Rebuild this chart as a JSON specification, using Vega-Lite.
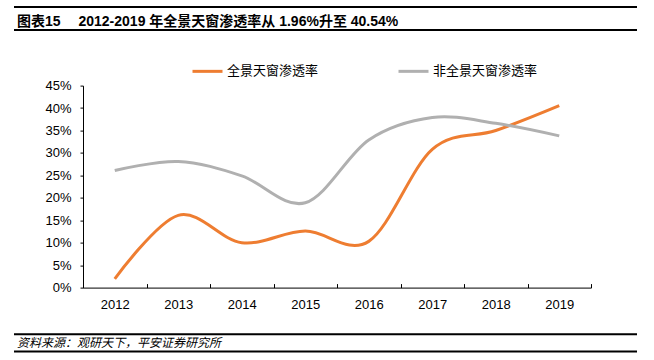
{
  "$schema": "https://vega.github.io/schema/vega-lite/v6.json",
  "padding": {"left": 13, "top": 6, "right": 0, "bottom": 0},
  "background": "white",
  "config": {
    "view": {"stroke": null},
    "font": "Liberation Sans, Noto Sans CJK SC"
  },
  "spacing": 19.6,
  "resolve": {"legend": {"color": "independent"}, "scale": {"color": "independent"}},
  "vconcat": [
    {
      "width": 623,
      "height": 23,
      "view": {"stroke": "#000000", "strokeWidth": 2, "strokeDash": [623, 23]},
      "title": {
        "text": "图表15\u3000 2012-2019 年全景天窗渗透率从 1.96%升至 40.54%",
        "anchor": "start",
        "orient": "top",
        "offset": -21.5,
        "dx": 3,
        "font": "Liberation Sans, Noto Sans CJK SC",
        "fontSize": 14,
        "fontWeight": "bold",
        "color": "#000000"
      },
      "data": {"values": []},
      "mark": {"type": "point"},
      "encoding": {}
    },
    {
      "bounds": "flush",
      "spacing": 68,
      "resolve": {"legend": {"color": "independent"}, "scale": {"color": "independent"}},
      "hconcat": [
        {
          "width": 1,
          "height": 228,
          "data": {"values": []},
          "mark": {"type": "point"},
          "encoding": {}
        },
        {
          "width": 508,
          "height": 202,
          "data": {
            "values": [
              {"year": "2012", "series": "全景天窗渗透率", "value": 1.96},
              {"year": "2013", "series": "全景天窗渗透率", "value": 16.1},
              {"year": "2014", "series": "全景天窗渗透率", "value": 10.0},
              {"year": "2015", "series": "全景天窗渗透率", "value": 12.6},
              {"year": "2016", "series": "全景天窗渗透率", "value": 10.3},
              {"year": "2017", "series": "全景天窗渗透率", "value": 30.8},
              {"year": "2018", "series": "全景天窗渗透率", "value": 35.0},
              {"year": "2019", "series": "全景天窗渗透率", "value": 40.54},
              {"year": "2012", "series": "非全景天窗渗透率", "value": 26.1},
              {"year": "2013", "series": "非全景天窗渗透率", "value": 28.1},
              {"year": "2014", "series": "非全景天窗渗透率", "value": 24.9},
              {"year": "2015", "series": "非全景天窗渗透率", "value": 18.9},
              {"year": "2016", "series": "非全景天窗渗透率", "value": 32.9},
              {"year": "2017", "series": "非全景天窗渗透率", "value": 37.9},
              {"year": "2018", "series": "非全景天窗渗透率", "value": 36.6},
              {"year": "2019", "series": "非全景天窗渗透率", "value": 33.8}
            ]
          },
          "mark": {"type": "line", "interpolate": "cardinal", "tension": 0, "strokeWidth": 3},
          "encoding": {
            "x": {
              "field": "year",
              "type": "ordinal",
              "bandPosition": 0.5,
              "scale": {"type": "band", "paddingInner": 0, "paddingOuter": 0},
              "axis": {
                "title": null,
                "labelAngle": 0,
                "tickBand": "extent",
                "tickSize": -4,
                "labelPadding": 15,
                "labelFont": "Liberation Sans",
                "labelFontSize": 13,
                "labelColor": "#000000",
                "domainColor": "#000000",
                "tickColor": "#000000",
                "grid": false
              }
            },
            "y": {
              "field": "value",
              "type": "quantitative",
              "scale": {"domain": [0, 45], "nice": false},
              "axis": {
                "title": null,
                "values": [0, 5, 10, 15, 20, 25, 30, 35, 40, 45],
                "labelExpr": "datum.value + '%'",
                "tickSize": 3,
                "labelPadding": 9,
                "labelFont": "Liberation Sans",
                "labelFontSize": 13,
                "labelColor": "#000000",
                "domainColor": "#000000",
                "tickColor": "#000000",
                "grid": false
              }
            },
            "color": {
              "field": "series",
              "type": "nominal",
              "scale": {
                "domain": ["全景天窗渗透率", "非全景天窗渗透率"],
                "range": ["#EE7D31", "#B0B0B0"]
              },
              "legend": {
                "orient": "none",
                "legendX": 104,
                "legendY": -35,
                "padding": 4,
                "direction": "horizontal",
                "title": null,
                "symbolType": "stroke",
                "symbolSize": 900,
                "symbolStrokeWidth": 3,
                "labelFont": "Liberation Sans, Noto Sans CJK SC",
                "labelFontSize": 13,
                "labelColor": "#000000",
                "labelOffset": 3,
                "columnPadding": 73,
                "gridAlign": "each"
              }
            }
          }
        }
      ]
    },
    {
      "width": 623,
      "height": 17.4,
      "view": {"stroke": "#000000", "strokeWidth": 2, "strokeDash": [623, 17.4]},
      "title": {
        "text": "资料来源：观研天下，平安证券研究所",
        "anchor": "start",
        "orient": "top",
        "offset": -16,
        "dx": 3,
        "font": "Liberation Sans, Noto Sans CJK SC",
        "fontSize": 12,
        "fontStyle": "italic",
        "fontWeight": "normal",
        "color": "#000000"
      },
      "data": {"values": []},
      "mark": {"type": "point"},
      "encoding": {}
    }
  ]
}
